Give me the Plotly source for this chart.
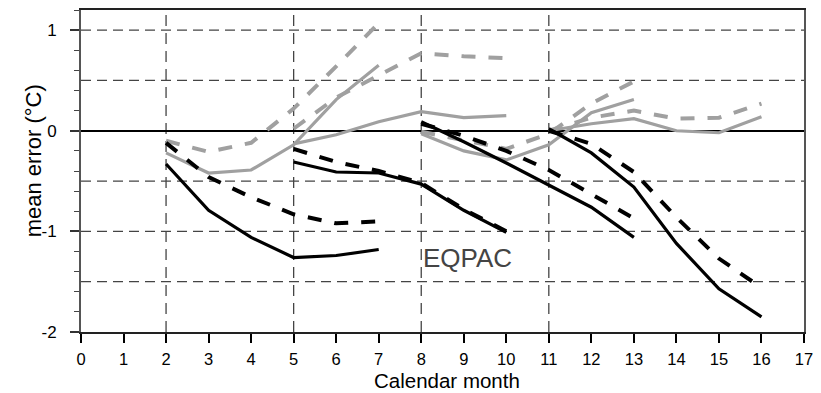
import plotly.graph_objects as go

# ---- data ----
months_g1 = [2, 3, 4, 5, 6, 7]
months_g2 = [5, 6, 7, 8, 9, 10]
months_g3 = [8, 9, 10, 11, 12, 13]
months_g4 = [11, 12, 13, 14, 15, 16]

black_solid_g1 = [-0.33, -0.79, -1.06, -1.26, -1.24, -1.18]
black_dash_g1 = [-0.12, -0.46, -0.66, -0.83, -0.92, -0.90]
gray_solid_g1 = [-0.22, -0.42, -0.39, -0.14, 0.31, 0.65]
gray_dash_g1 = [-0.10, -0.21, -0.12, 0.22, 0.64, 1.07]

black_solid_g2 = [-0.31, -0.41, -0.42, -0.53, -0.79, -1.01]
black_dash_g2 = [-0.18, -0.31, -0.40, -0.52, -0.78, -1.00]
gray_solid_g2 = [-0.13, -0.04, 0.09, 0.19, 0.13, 0.15]
gray_dash_g2 = [0.02, 0.33, 0.55, 0.77, 0.74, 0.72]

black_solid_g3 = [0.09, -0.11, -0.32, -0.54, -0.76, -1.06]
black_dash_g3 = [0.07, -0.05, -0.20, -0.39, -0.63, -0.87]
gray_solid_g3 = [-0.03, -0.20, -0.29, -0.14, 0.18, 0.31]
gray_dash_g3 = [-0.01, -0.10, -0.18, -0.03, 0.27, 0.49]

black_solid_g4 = [0.02, -0.22, -0.56, -1.12, -1.57, -1.85]
black_dash_g4 = [0.00, -0.13, -0.41, -0.86, -1.27, -1.56]
gray_solid_g4 = [0.00, 0.07, 0.12, 0.00, -0.02, 0.14]
gray_dash_g4 = [0.00, 0.13, 0.20, 0.12, 0.13, 0.27]

x_ticks = list(range(0, 18))
y_ticks = [-2, -1, 0, 1]
grid_y = [-1.5, -1.0, -0.5, 0.5, 1.0]
grid_x = [2, 5, 8, 11]

GRAY = "#a0a0a0"
BLACK = "#000000"
FONT = "Liberation Sans, Arial, Helvetica, sans-serif"

fig = go.Figure()

groups = [
    (months_g1, black_solid_g1, black_dash_g1, gray_solid_g1, gray_dash_g1),
    (months_g2, black_solid_g2, black_dash_g2, gray_solid_g2, gray_dash_g2),
    (months_g3, black_solid_g3, black_dash_g3, gray_solid_g3, gray_dash_g3),
    (months_g4, black_solid_g4, black_dash_g4, gray_solid_g4, gray_dash_g4),
]

# gray lines first
for m, bs, bd, gs, gd in groups:
    fig.add_trace(go.Scatter(x=m, y=gs, mode="lines",
                             line=dict(color=GRAY, width=3.2)))
    fig.add_trace(go.Scatter(x=m, y=gd, mode="lines",
                             line=dict(color=GRAY, width=4, dash="14px,13px")))
# black lines on top
for m, bs, bd, gs, gd in groups:
    fig.add_trace(go.Scatter(x=m, y=bs, mode="lines",
                             line=dict(color=BLACK, width=3.2)))
    fig.add_trace(go.Scatter(x=m, y=bd, mode="lines",
                             line=dict(color=BLACK, width=4, dash="14px,13px")))

shapes = []
for gy in grid_y:
    shapes.append(dict(type="line", xref="paper", yref="y", x0=0, x1=1, y0=gy, y1=gy,
                       line=dict(color="#444444", width=1.3, dash="10px,6px"), layer="below"))
for gx in grid_x:
    shapes.append(dict(type="line", xref="x", yref="paper", x0=gx, x1=gx, y0=0, y1=1,
                       line=dict(color="#444444", width=1.3, dash="11px,7px"), layer="below"))

fig.update_layout(
    width=821, height=393,
    margin=dict(l=81, r=12, t=8, b=61),
    paper_bgcolor="white", plot_bgcolor="white",
    showlegend=False,
    font=dict(family=FONT, color="black"),
    shapes=shapes,
    xaxis=dict(range=[0, 17], tickmode="array", tickvals=x_ticks,
               ticktext=[str(t) for t in x_ticks],
               ticks="outside", ticklen=9, tickwidth=1.5, tickcolor="black",
               showline=True, linecolor="#222222", linewidth=2, mirror=True,
               showgrid=False, zeroline=False,
               tickfont=dict(size=16.5, family=FONT, color="black"),
               ticklabelstandoff=2),
    yaxis=dict(range=[-2, 1.2], tickmode="array", tickvals=y_ticks,
               ticktext=[str(t) for t in y_ticks],
               ticks="outside", ticklen=9, tickwidth=1.5, tickcolor="#333333",
               minor=dict(tickmode="linear", tick0=0, dtick=0.2, ticks="outside",
                          ticklen=5, tickwidth=1.2, tickcolor="#444444", showgrid=False),
               showline=True, linecolor="#555555", linewidth=2, mirror=True,
               showgrid=False, zeroline=True, zerolinecolor="black", zerolinewidth=1.5,
               tickfont=dict(size=17, family=FONT, color="black"),
               ticklabelstandoff=10),
    annotations=[
        dict(text="mean error (°C)", xref="paper", yref="paper",
             x=-0.066, y=0.531, xanchor="center", yanchor="middle",
             textangle=-90, showarrow=False,
             font=dict(size=22, family=FONT, color="black")),
        dict(text="Calendar month", xref="paper", yref="paper",
             x=0.5065, y=-0.151, xanchor="center", yanchor="middle",
             showarrow=False, font=dict(size=20.5, family=FONT, color="black")),
        dict(text="EQPAC", xref="x", yref="y", x=9.08, y=-1.26,
             xanchor="center", yanchor="middle", showarrow=False,
             font=dict(size=26, family=FONT, color="#444444")),
    ],
)

fig.write_html("out.html")
